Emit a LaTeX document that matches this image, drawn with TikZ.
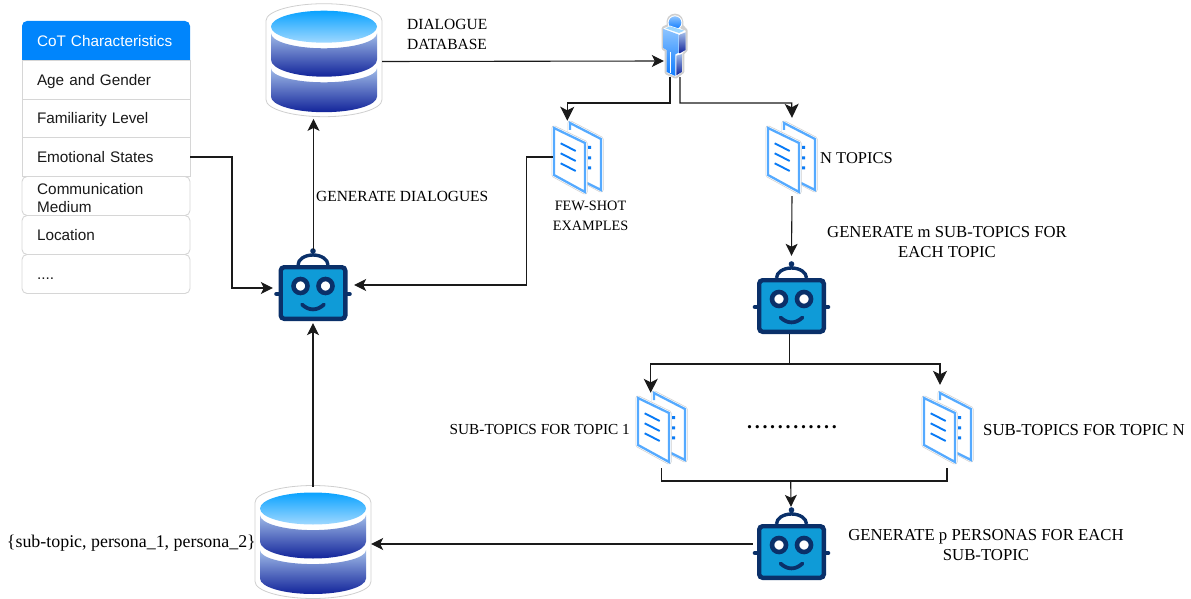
\documentclass[tikz,border=0pt]{standalone}
\usepackage{fontspec}
\setmainfont{Liberation Serif}
\newfontfamily\tabfont{Liberation Sans}
\usetikzlibrary{arrows.meta}
\definecolor{hdrblue}{HTML}{0085FC}
\definecolor{rowline}{HTML}{D6D6D6}
\definecolor{halo}{HTML}{CFCFCF}
\definecolor{botdark}{HTML}{0A3069}
\definecolor{botfill}{HTML}{0F9BD7}
\definecolor{pageblue}{HTML}{55AAFF}
\definecolor{inkblue}{HTML}{0A7BF5}
\definecolor{linktone}{HTML}{1A1A1A}
\definecolor{dbtopA}{HTML}{0AA2FF}
\definecolor{dbtopB}{HTML}{9FD8FF}
\definecolor{dbbandA}{HTML}{A0BBE8}
\definecolor{dbbandB}{HTML}{12249A}
\definecolor{userA}{HTML}{8CC4FF}
\definecolor{userB}{HTML}{0F7CFF}
\newcommand{\lblsize}[1]{\fontsize{#1}{20}\selectfont}
\tikzset{
  rowbox/.style={draw=rowline,line width=0.9pt,fill=white,minimum width=168pt,minimum height=39pt,text width=138pt,inner xsep=15pt,inner ysep=0pt,align=left,font=\tabfont\fontsize{15.3}{18}\selectfont,text=black!90},
  oneline/.style={text height=13pt,text depth=1.5pt},
  slot/.style={inner sep=0pt,draw=none,fill=none,rectangle},
  lbl/.style={inner sep=0pt,text=black},
  link/.style={draw=linktone,line width=1.1pt},
  arr/.style={link,-{Stealth[length=12pt,width=12pt,inset=3pt]}},
  bigarr/.style={link,-{Stealth[length=14pt,width=14pt,inset=3.5pt]}},
  robotpic/.pic={
    \fill[botdark] (0,-42) circle[radius=2.8];
    \draw[botdark,line width=2.8pt] (0,-42) -- (0,-37);
    \draw[botdark,line width=3.4pt] (-15,-28) arc[start angle=180,end angle=360,x radius=15,y radius=10];
    \draw[botdark,line width=4.6pt,line cap=round] (-36.5,1) -- (-33,1) (33,1) -- (36.5,1);
    \draw[botdark,fill=botfill,line width=4.4pt,rounded corners=3.5] (-32.3,-25.8) rectangle (32.3,25.8);
    \draw[botdark,fill=white,line width=4.6pt] (-12.5,-7) circle[radius=7];
    \draw[botdark,fill=white,line width=4.6pt] (12.5,-7) circle[radius=7];
    \draw[botdark,line width=3.8pt,line cap=round] (-11,11.5) .. controls (-4,18) and (4,18) .. (11,11.5);
  },
  docpic/.pic={
    \path[draw=halo,line width=5pt,line join=round] (16,-5) -- (47,11) -- (47,62) -- (34,55) -- (34,40) -- (16,10) -- cycle;
    \path[draw=white,fill=white,line width=3.6pt,line join=round] (16,-5) -- (47,11) -- (47,62) -- (34,55) -- (34,40) -- (16,10) -- cycle;
    \draw[pageblue,line width=2.3pt] (16,2) -- (16,-5) -- (47,11) -- (47,62) -- (33,55);
    \path[draw=halo,line width=5pt,line join=round] (0,0) -- (31,15) -- (31,64) -- (0,47) -- cycle;
    \path[draw=white,fill=white,line width=3.6pt,line join=round] (0,0) -- (31,15) -- (31,64) -- (0,47) -- cycle;
    \draw[pageblue,fill=white,line width=2.3pt] (0,0) -- (31,15) -- (31,64) -- (0,47) -- cycle;
    \draw[inkblue,line width=1.9pt] (6.7,15.3) -- (21.7,23) (6.7,25.3) -- (21.7,33) (6.7,35.3) -- (21.7,43);
    \fill[inkblue] (34,18) rectangle (37,21) (34,28.4) rectangle (37,31.4) (34,38.4) rectangle (37,41.4);
  },
  dbpic/.pic={
    \path[draw=halo,fill=white,line width=0.8pt] (-58,-6) arc[start angle=180,end angle=0,x radius=58,y radius=-17] -- (58,73) arc[start angle=0,end angle=180,x radius=58,y radius=17] -- cycle;
    \shade[top color=dbbandA,bottom color=dbbandB] (-53,6.6) -- (-53,33) arc[start angle=180,end angle=0,x radius=53,y radius=17] -- (53,6.6) arc[start angle=0,end angle=180,x radius=53,y radius=15] -- cycle;
    \shade[top color=dbbandA,bottom color=dbbandB] (-53,41.6) -- (-53,70) arc[start angle=180,end angle=0,x radius=53,y radius=15.5] -- (53,41.6) arc[start angle=0,end angle=180,x radius=53,y radius=14] -- cycle;
    \shade[top color=dbtopA,bottom color=dbtopB] (0,0) ellipse[x radius=53,y radius=16];
  },
}
\begin{document}
\begin{tikzpicture}[x=1pt,y=-1pt]
\useasboundingbox (0,0) rectangle (1191,599);

% table
\node[rowbox,oneline,rounded corners=5pt] (row6) at (106,274) {....};
\node[rowbox,oneline,rounded corners=5pt] (row5) at (106,235) {Location};
\node[rowbox,rounded corners=5pt] (row4) at (106,196) {};
\node[lbl,anchor=west,align=left,font=\tabfont\fontsize{15.3}{18}\selectfont,text=black!90] (row4text) at (37,198) {Communication\\Medium};
\node[rowbox,oneline] (row3) at (106,157) {Emotional States};
\node[rowbox,oneline] (row2) at (106,118) {Familiarity Level};
\node[rowbox,oneline] (row1) at (106,79.5) {Age and Gender};
\fill[hdrblue] (22,60) {[rounded corners=5pt] -- (22,21) -- (190,21)} -- (190,60) -- cycle;
\node[rowbox,oneline,draw=none,fill=none,text=white] (head) at (106,40.5) {CoT Characteristics};

% databases
\pic at (324,26.7) {dbpic};
\pic at (313,508.5) {dbpic};
\node[slot,minimum width=116pt,minimum height=114.5pt] (db1) at (324,61.5) {};
\node[slot,minimum width=116pt,minimum height=114pt] (db2) at (313,544) {};

% robots
\pic at (313,293) {robotpic};
\pic at (791.5,306) {robotpic};
\pic at (791.5,552) {robotpic};
\node[slot,minimum width=81pt,minimum height=73pt] (bot1) at (313.5,286.5) {};
\node[slot,minimum width=70pt,minimum height=78pt] (bot2) at (791.5,295) {};
\node[slot,minimum width=76pt,minimum height=74pt] (bot3) at (791,544) {};

% documents
\pic at (554,128) {docpic};
\pic at (768,128) {docpic};
\pic at (638,398) {docpic};
\pic at (924,398) {docpic};
\node[slot,minimum width=50pt,minimum height=78pt] (fewdoc) at (578,157) {};
\node[slot,minimum width=50pt,minimum height=78pt] (topdoc) at (792,157) {};
\node[slot,minimum width=50pt,minimum height=75pt] (sub1) at (661.3,430.5) {};
\node[slot,minimum width=50pt,minimum height=83pt] (subn) at (947,426.5) {};

% person
\begin{scope}[shift={(520,0)},x=0.3333pt,y=-0.3333pt]
  \path[draw=halo,fill=white,line width=4pt,line join=round] (465,47) .. controls (480,47) and (486,60) .. (484,78) -- (497,92) -- (497,150) -- (487,160) -- (487,215) -- (467,230) -- (440,218) -- (440,150) -- (431,145) -- (431,85) -- (447,77) .. controls (442,60) and (450,47) .. (465,47) -- cycle;
  \fill[white] (465,68) circle[radius=22];
  \shade[top color=userA,bottom color=userB] (465,68) circle[radius=19];
  \fill[white] (431,85) -- (450,77) -- (497,92) -- (497,150) -- (487,160) -- (487,215) -- (467,230) -- (440,218) -- (440,150) -- (431,145) -- cycle;
  \shade[top color=dbbandA,bottom color=dbbandB] (479,104) -- (497,97) -- (497,150) -- (479,160) -- cycle;
  \shade[top color=dbbandA,bottom color=dbbandB] (469,167) -- (487,162) -- (487,215) -- (469,226) -- cycle;
  \shade[top color=userA,bottom color=userB] (431,87) -- (476,104) -- (476,158) -- (466,163) -- (466,228) -- (440,216) -- (440,150) -- (431,145) -- cycle;
  \fill[dbtopB] (436,85) -- (450,79) -- (493,92) -- (477,99) -- cycle;
  \draw[white,line width=1.3pt] (451,155) -- (451,220);
\end{scope}
\node[slot,minimum width=18pt,minimum height=32pt] (user) at (673,61) {};

% connectors
\coordinate (turnL) at (567.3,103);
\coordinate (turnR) at (791.7,103);
\draw[arr] (row3.east) -- (232,157) |- ([yshift=-1.5pt]bot1.west);
\draw[arr] (db2.north) -- (db2.north |- bot1.south);
\draw[arr] (bot1.north) -- (bot1.north |- db1.south);
\draw[arr] (db1.east) -- (user.west);
\draw[bigarr] ([xshift=-3pt]user.south) |- (turnL) -- ([xshift=-10.7pt,yshift=-3pt]fewdoc.north);
\draw[bigarr] ([xshift=7pt]user.south) |- (turnR) -- (topdoc.north);
\draw[arr] (fewdoc.west) -| (526.7,285) -- ([yshift=1.5pt]bot1.east);
\draw[arr] (topdoc.south) -- (bot2.north);
\coordinate (fork) at (789.5,364);
\draw[link] (fork |- bot2.south) -- (fork);
\draw[bigarr] (fork) -| ([xshift=-10.6pt]sub1.north);
\draw[bigarr] (fork) -| ([xshift=-7pt]subn.north);
\coordinate (join) at (790.7,481);
\draw[link] (sub1.south) |- (join) -| (subn.south);
\draw[arr] (join) -- (bot3.north);
\draw[arr] (bot3.west) -- (db2.east);

% labels
\node[lbl,anchor=west,align=left,font=\lblsize{15.5}] (t1) at (407,34) {DIALOGUE\\DATABASE};
\node[lbl,anchor=west,font=\lblsize{15.45}] (t2) at (316,196) {GENERATE DIALOGUES};
\node[lbl,align=center,font=\lblsize{14.3}] (t3) at (590.5,216) {FEW-SHOT\\EXAMPLES};
\node[lbl,anchor=west,font=\lblsize{16.5}] (t4) at (820,158) {N TOPICS};
\node[lbl,align=center,font=\lblsize{16.7}] (t5) at (947,242) {GENERATE m SUB-TOPICS FOR\\EACH TOPIC};
\node[lbl,anchor=east,font=\lblsize{15.3}] (t6) at (630,430) {SUB-TOPICS FOR TOPIC 1};
\node[lbl,font=\bfseries\lblsize{20}] (t7) at (792,427) {\foreach \n in {1,...,12}{\makebox[7.7pt]{.}}};
\node[lbl,anchor=west,font=\lblsize{16.8}] (t8) at (983,430) {SUB-TOPICS FOR TOPIC N};
\node[lbl,align=center,font=\lblsize{16.75}] (t9) at (986,545) {GENERATE p PERSONAS FOR EACH\\SUB-TOPIC};
\node[lbl,anchor=east,font=\lblsize{17.9}] (t10) at (256,543) {\{sub-topic, persona\_1, persona\_2\}};
\end{tikzpicture}
\end{document}
